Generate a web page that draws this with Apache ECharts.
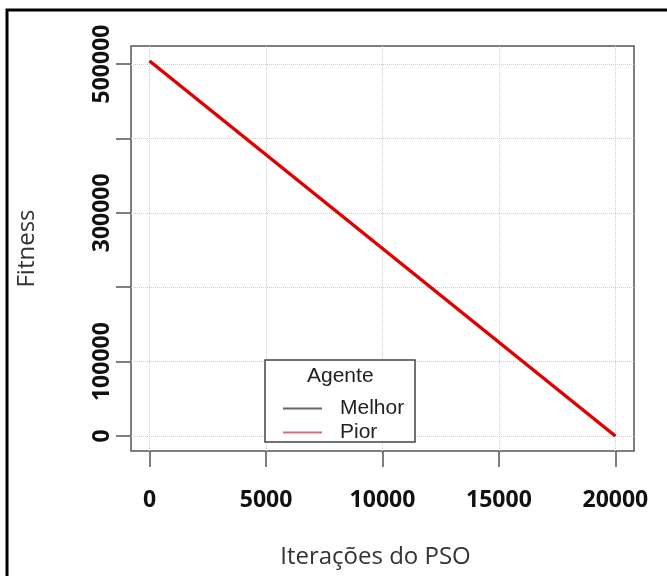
<!DOCTYPE html>
<html>
<head>
<meta charset="utf-8">
<script src="https://cdn.jsdelivr.net/npm/echarts@6/dist/echarts.min.js"></script>
<style>
  html, body { margin: 0; padding: 0; background: #fff; }
  #chart { width: 667px; height: 576px; }
</style>
</head>
<body>
<div id="chart"></div>
<script>
// PSO run: fitness of the best and worst agent over iterations
const iterations = [0, 20000];
const melhor = [504000, 0];
const pior = [504000, 0];

const xTicks = [0, 5000, 10000, 15000, 20000];
const yTicks = [0, 100000, 200000, 300000, 400000, 500000];
const yLabels = [0, 100000, 300000, 500000];

const seriesNames = ['Melhor', 'Pior'];
const legendTitle = 'Agente';

// axis extents padded by 4% of the data range on each side
function padded(lo, hi) {
  const p = (hi - lo) * 0.04;
  return [lo - p, hi + p];
}
const xr = padded(Math.min(...iterations), Math.max(...iterations));
const yAll = melhor.concat(pior);
const yr = padded(Math.min(...yAll), Math.max(...yAll));

const FONT = 'Open Sans';
const LEGEND_FONT = 'Liberation Sans';
const plain = v => String(Math.round(v));
const chart = echarts.init(document.getElementById('chart'), null, { renderer: 'canvas' });

chart.setOption({
  backgroundColor: '#ffffff',
  animation: false,
  grid: {
    left: 131, right: 33, top: 46, bottom: 125,
    show: true, borderColor: '#555', borderWidth: 1.5, backgroundColor: 'transparent'
  },
  xAxis: {
    type: 'value',
    min: xr[0], max: xr[1],
    name: 'Iterações do PSO',
    nameLocation: 'middle',
    nameGap: 94,
    nameTextStyle: { fontFamily: FONT, fontSize: 24, color: '#333', padding: [0, 14, 0, 0] },
    axisLine: { show: false, onZero: false },
    axisTick: { show: true, inside: false, length: 16, customValues: xTicks,
                lineStyle: { color: '#555', width: 1.5 } },
    axisLabel: { customValues: xTicks, formatter: plain, margin: 38, fontFamily: FONT,
                 fontWeight: 'bold', fontSize: 23, color: '#111' },
    splitLine: { show: true, lineStyle: { type: 'dotted', color: '#cfcfcf', width: 1 } }
  },
  yAxis: {
    type: 'value',
    min: yr[0], max: yr[1],
    name: 'Fitness',
    nameLocation: 'middle',
    nameGap: 92,
    nameTextStyle: { fontFamily: FONT, fontSize: 24, color: '#333' },
    axisLine: { show: false, onZero: false },
    axisTick: { show: true, inside: false, length: 15, customValues: yTicks,
                lineStyle: { color: '#555', width: 1.5 } },
    axisLabel: { customValues: yLabels, formatter: plain, rotate: 90, margin: 17,
                 fontFamily: FONT, fontWeight: 'bold', fontSize: 23, color: '#111' },
    splitLine: { show: true, lineStyle: { type: 'dotted', color: '#cfcfcf', width: 1 } }
  },
  legend: {
    data: seriesNames,
    orient: 'vertical',
    left: 283, top: 398,
    padding: 0,
    itemGap: 3,
    itemWidth: 39, itemHeight: 2,
    icon: 'rect',
    z: 60,
    textStyle: { fontFamily: LEGEND_FONT, fontSize: 21, color: '#222', padding: [0, 0, 0, 13], lineHeight: 21 }
  },
  graphic: [
    { type: 'rect', z: 50, silent: true,
      shape: { x: 7, y: 10, width: 700, height: 620 },
      style: { fill: 'none', stroke: '#000', lineWidth: 3 } },
    { type: 'rect', z: 50, silent: true,
      shape: { x: 265, y: 360, width: 150, height: 82 },
      style: { fill: '#fff', stroke: '#444', lineWidth: 1.5 } },
    { type: 'text', z: 51, silent: true, left: 307, top: 366,
      style: { text: legendTitle, fontFamily: LEGEND_FONT, fontSize: 21, fill: '#222' } }
  ],
  series: [
    { name: 'Melhor', type: 'line', symbol: 'none', z: 2,
      data: iterations.map((x, i) => [x, melhor[i]]),
      itemStyle: { color: '#666' },
      lineStyle: { color: '#222', width: 1.5 } },
    { name: 'Pior', type: 'line', symbol: 'none', z: 3,
      data: iterations.map((x, i) => [x, pior[i]]),
      itemStyle: { color: '#e36a6a' },
      lineStyle: { color: '#e00000', width: 3.5 } }
  ]
});
</script>
</body>
</html>
